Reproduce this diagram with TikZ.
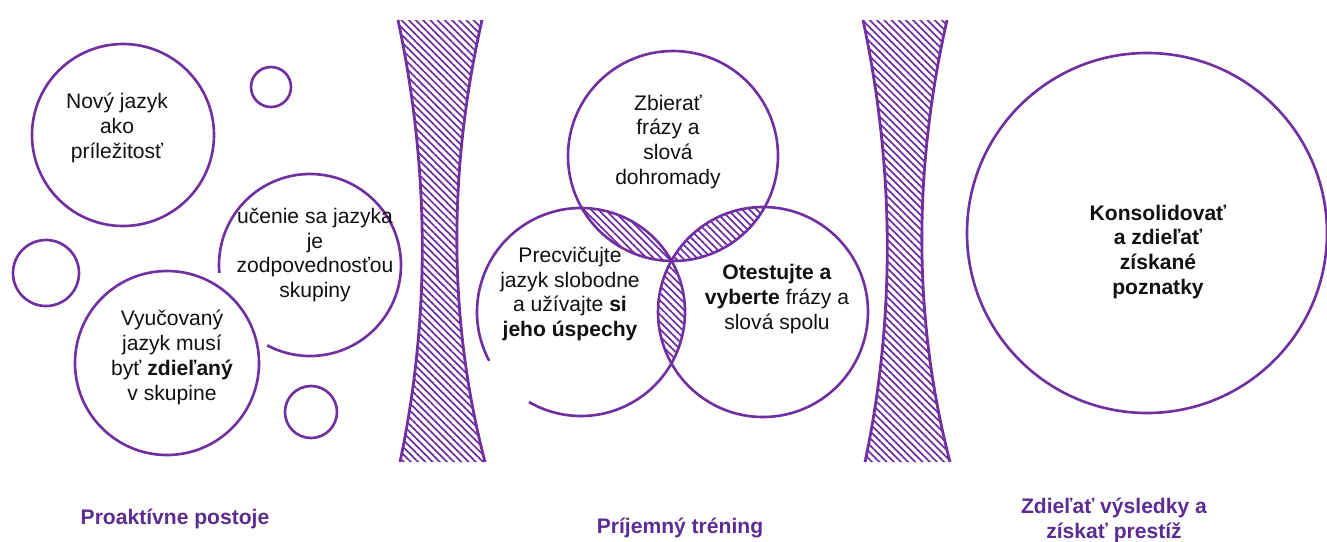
\documentclass[tikz,border=0pt]{standalone}
\usepackage{fontspec}
\setmainfont{Liberation Sans}
\usetikzlibrary{patterns.meta}
\definecolor{primary-purple}{HTML}{7030A0}
\definecolor{deep-purple}{HTML}{5B2D90}
\definecolor{jet}{HTML}{111111}

\begin{document}
\begin{tikzpicture}[x=0.02cm, y=-0.02cm,
    every node/.style={font=\fontsize{12}{14.2}\selectfont, align=center, inner sep=0pt, color=jet},
    ring/.style={line width=1.5pt, draw=primary-purple},
    hatch/.style={pattern={Lines[angle=-45,distance=2.9pt,line width=1pt]}, pattern color=primary-purple},
    caption/.style={font=\fontsize{12}{14.2}\selectfont\bfseries, color=deep-purple}]
  \useasboundingbox (0,0) rectangle (1327,541);
  % proactive bubbles
  \draw[ring] (123,135) circle[radius=91];
  \draw[ring] (271,87) circle[radius=20];
  \draw[ring] (46,273) circle[radius=33];
  \draw[ring] (311,412) circle[radius=26];
  \draw[ring] (167,363) circle[radius=92];
  \draw[ring] (310,265) ++(175:91) arc[start angle=175, end angle=478, radius=91];
  \node (opp) at (117,128) {Nový jazyk\\ako\\príležitosť};
  \node (resp) at (315,255) {učenie sa jazyka\\je\\zodpovednosťou\\skupiny};
  \node (share) at (172,357) {Vyučovaný\\jazyk musí\\byť \textbf{zdieľaný}\\v skupine};
  % hourglass dividers
  \foreach \dx in {0,465} {
    \fill[hatch, shift={(\dx,0)}] (398,20) .. controls (430,170) and (430,320) .. (400,462)
      -- (485,462) .. controls (448,320) and (448,170) .. (482,20) -- cycle;
    \draw[line width=1.6pt, primary-purple, shift={(\dx,0)}]
      (398,20) .. controls (430,170) and (430,320) .. (400,462)
      (485,462) .. controls (448,320) and (448,170) .. (482,20);
  }
  % venn of the training
  \begin{scope}
    \clip (673,156) circle[radius=105];
    \fill[hatch] (581,312) circle[radius=104];
    \fill[hatch] (763,312) circle[radius=105];
  \end{scope}
  \begin{scope}
    \clip (581,312) circle[radius=104];
    \fill[hatch] (763,312) circle[radius=105];
  \end{scope}
  \draw[ring] (673,156) circle[radius=105];
  \draw[ring] (763,312) circle[radius=105];
  \draw[ring] (581,312) ++(152:104) arc[start angle=152, end angle=480, radius=104];
  \node (collect) at (668,142) {Zbierať\\frázy a\\slová\\dohromady};
  \node (practice) at (570,294) {Precvičujte\\jazyk slobodne\\a užívajte \textbf{si}\\\textbf{jeho úspechy}};
  \node (test) at (777,299) {\textbf{Otestujte a}\\\textbf{vyberte} frázy a\\slová spolu};
  % result
  \draw[ring] (1147,233) circle[radius=180];
  \node[font=\fontsize{12}{14.2}\selectfont\bfseries] (consol) at (1158,252) {Konsolidovať\\a zdieľať\\získané\\poznatky};
  % captions
  \node[caption] (proactive) at (175,519) {Proaktívne postoje};
  \node[caption] (training) at (680,528) {Príjemný tréning};
  \node[caption] (prestige) at (1114,520) {Zdieľať výsledky a\\získať prestíž};
\end{tikzpicture}
\end{document}
